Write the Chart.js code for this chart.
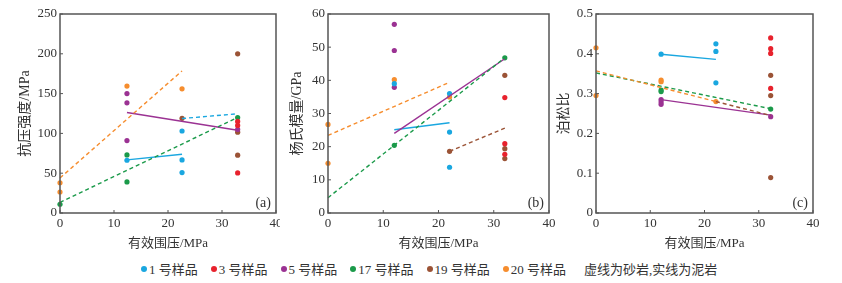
<!DOCTYPE html>
<html>
<head>
<meta charset="utf-8">
<script src="https://cdn.jsdelivr.net/npm/chart.js@4.4.1/dist/chart.umd.min.js"></script>
<style>
    body { margin: 0; background: #fff; }
    #wrap { position: relative; width: 842px; height: 283px; overflow: hidden; }
    canvas { position: absolute; top: 0; }
    #legend { position: absolute; left: 141px; top: 259px; display: flex; align-items: center;
        font-family: "Liberation Serif", "Noto Sans CJK SC", serif; font-size: 13px; color: #333; white-space: nowrap; }
    .item { display: flex; align-items: center; margin-right: 13px; }
    .dot { width: 6px; height: 6px; border-radius: 50%; margin-right: 2px; }
    .note { margin-left: 5px; }
</style>
</head>
<body>
<div id="wrap">
    <canvas id="chart-a" width="280" height="255" style="left:0px"></canvas>
    <canvas id="chart-b" width="290" height="255" style="left:270px"></canvas>
    <canvas id="chart-c" width="292" height="255" style="left:550px"></canvas>
    <div id="legend"></div>
</div>
<script>
var samples = ['1 号样品', '3 号样品', '5 号样品', '17 号样品', '19 号样品', '20 号样品'];
var sampleColors = ['#1aa7e0', '#e8222d', '#9b3293', '#1b9a4a', '#9b5336', '#f68d2e'];
var legendNote = '虚线为砂岩,实线为泥岩';
var xTitle = '有效围压/MPa';

// (a) 抗压强度, points per sample [x, y]
var ucsPoints = [
    [[12.4, 66.3], [22.6, 103], [22.6, 66.7], [22.6, 50.8]],
    [[32.9, 115], [32.9, 110], [32.9, 50.3]],
    [[12.4, 150], [12.4, 138.4], [12.4, 91], [32.9, 105]],
    [[0, 11], [12.4, 73], [12.4, 39], [32.9, 120]],
    [[22.6, 119], [32.9, 200], [32.9, 101.5], [32.9, 72.6]],
    [[0, 38], [0, 26.4], [12.4, 159.4], [22.6, 156]]
];
// fit lines: [sample index, dashed, start, end]
var ucsLines = [
    [5, true, [0, 44], [22.6, 178.5]],
    [3, true, [0, 13.4], [32.9, 120]],
    [0, true, [22.6, 118.7], [32.9, 124.6]],
    [2, false, [12.4, 126.3], [32.9, 104]],
    [0, false, [12.4, 66.7], [22.6, 73.8]]
];

// (b) 杨氏模量
var modPoints = [
    [[12, 39], [22, 36], [22, 24.4], [22, 13.8]],
    [[32, 34.8], [32, 20.9], [32, 17.7]],
    [[12, 56.9], [12, 49], [12, 37.9]],
    [[12, 20.4], [32, 46.8]],
    [[22, 18.6], [32, 41.5], [32, 19.4], [32, 16.4]],
    [[0, 26.7], [0, 15], [12, 40.2], [22, 35]]
];
var modLines = [
    [5, true, [0, 23.4], [22, 39.4]],
    [3, true, [0, 4.6], [32, 46.8]],
    [2, false, [12, 24], [32, 46.5]],
    [0, false, [12, 25.1], [22, 27.2]],
    [4, true, [22, 18.6], [32, 25.6]]
];

// (c) 泊松比
var poisPoints = [
    [[12, 0.399], [22.1, 0.425], [22.1, 0.406], [22.1, 0.327]],
    [[32.2, 0.44], [32.2, 0.413], [32.2, 0.401], [32.2, 0.313]],
    [[12, 0.285], [12, 0.279], [12, 0.273], [32.2, 0.242]],
    [[12, 0.309], [12, 0.305], [32.2, 0.261]],
    [[32.2, 0.346], [32.2, 0.295], [32.2, 0.089]],
    [[0, 0.415], [0, 0.295], [12, 0.334], [12, 0.33], [22.1, 0.28]]
];
var poisLines = [
    [5, true, [0, 0.357], [22.1, 0.28]],
    [4, true, [22.1, 0.28], [32.2, 0.245]],
    [3, true, [0, 0.352], [32.2, 0.262]],
    [2, false, [12, 0.285], [32.2, 0.246]],
    [0, false, [12, 0.399], [22.1, 0.386]]
];

var axisColor = '#555';
var serif = '"Liberation Serif", "Noto Sans CJK SC", serif';

var framePlugin = {
    id: 'frame',
    afterDraw: function (chart) {
        var ctx = chart.ctx, a = chart.chartArea;
        var xs = chart.scales.x, ys = chart.scales.y;
        ctx.save();
        ctx.strokeStyle = axisColor;
        ctx.lineWidth = 1.5;
        ctx.strokeRect(a.left, a.top, a.right - a.left, a.bottom - a.top);
        ctx.lineWidth = 1;
        xs.ticks.forEach(function (t) {
            var px = xs.getPixelForValue(t.value);
            ctx.beginPath(); ctx.moveTo(px, a.bottom); ctx.lineTo(px, a.bottom - 3); ctx.stroke();
        });
        ys.ticks.forEach(function (t) {
            var py = ys.getPixelForValue(t.value);
            ctx.beginPath(); ctx.moveTo(a.left, py); ctx.lineTo(a.left + 3, py); ctx.stroke();
        });
        ctx.fillStyle = '#333';
        ctx.font = '14px ' + serif;
        ctx.textAlign = 'right';
        ctx.textBaseline = 'bottom';
        ctx.fillText(chart.options.plugins.frame.tag, a.right - 5, a.bottom - 3);
        ctx.restore();
    }
};

function makePanel(id, points, lines, yMax, yStep, yTitle, tag, axisWidth, titlePad, padRight) {
    var datasets = [];
    lines.forEach(function (l) {
        datasets.push({
            type: 'line',
            data: [{ x: l[2][0], y: l[2][1] }, { x: l[3][0], y: l[3][1] }],
            borderColor: sampleColors[l[0]],
            borderWidth: 1.4,
            borderDash: l[1] ? [4, 3] : [],
            pointRadius: 0,
            fill: false,
            clip: false
        });
    });
    points.forEach(function (p, i) {
        datasets.push({
            type: 'scatter',
            label: samples[i],
            data: p.map(function (d) { return { x: d[0], y: d[1] }; }),
            backgroundColor: sampleColors[i],
            borderWidth: 0,
            pointRadius: 2.6,
            clip: false
        });
    });

    new Chart(document.getElementById(id), {
        type: 'scatter',
        data: { datasets: datasets },
        options: {
            responsive: false,
            animation: false,
            events: [],
            layout: { padding: { top: 14, right: padRight, left: 0, bottom: 0 } },
            plugins: { legend: { display: false }, tooltip: { enabled: false }, frame: { tag: tag } },
            scales: {
                x: {
                    type: 'linear', min: 0, max: 40,
                    ticks: { stepSize: 10, padding: 3, color: '#333', font: { family: serif, size: 13 } },
                    grid: { display: false, drawTicks: false },
                    border: { display: false },
                    title: { display: true, text: xTitle, color: '#333', padding: { top: 0, bottom: 4 }, font: { family: serif, size: 13 } },
                    afterFit: function (s) { s.height = 42; s.paddingLeft = 0; s.paddingRight = 0; }
                },
                y: {
                    min: 0, max: yMax,
                    ticks: { stepSize: yStep, padding: 3, color: '#333', font: { family: serif, size: 13 } },
                    grid: { display: false, drawTicks: false },
                    border: { display: false },
                    title: { display: true, text: yTitle, color: '#333', padding: { top: titlePad, bottom: 0 }, font: { family: serif, size: 14 } },
                    afterFit: function (s) { s.width = axisWidth; s.paddingTop = 0; s.paddingBottom = 0; }
                }
            }
        },
        plugins: [framePlugin]
    });
}

makePanel('chart-a', ucsPoints, ucsLines, 250, 50, '抗压强度/MPa', '(a)', 60, 16.6, 3);
makePanel('chart-b', modPoints, modLines, 60, 10, '杨氏模量/GPa', '(b)', 58, 18.6, 11);
makePanel('chart-c', poisPoints, poisLines, 0.5, 0.1, '泊松比', '(c)', 46, 5.6, 29);

var legend = document.getElementById('legend');
samples.forEach(function (name, i) {
    var item = document.createElement('div');
    item.className = 'item';
    var dot = document.createElement('span');
    dot.className = 'dot';
    dot.style.background = sampleColors[i];
    var txt = document.createElement('span');
    txt.textContent = name;
    item.appendChild(dot);
    item.appendChild(txt);
    legend.appendChild(item);
});
var note = document.createElement('div');
note.className = 'note';
note.textContent = legendNote;
legend.appendChild(note);
</script>
</body>
</html>
